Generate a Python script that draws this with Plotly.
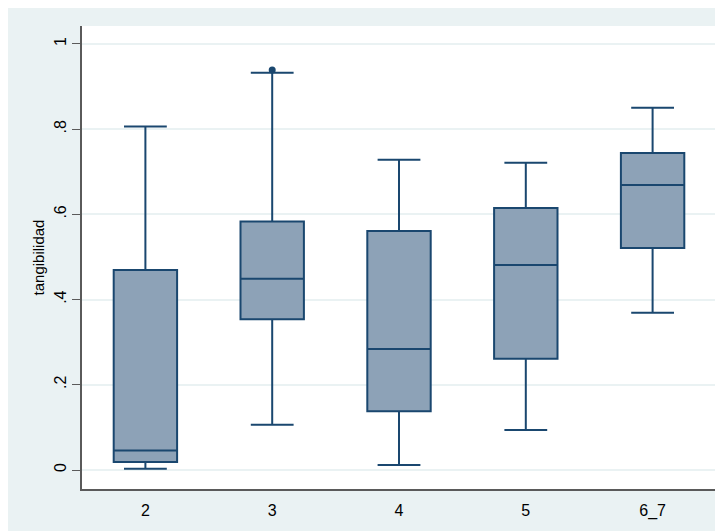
import plotly.graph_objects as go

categories = ["2", "3", "4", "5", "6_7"]
lower_whisker = [0.003, 0.106, 0.012, 0.094, 0.369]
q1_values = [0.019, 0.354, 0.138, 0.261, 0.521]
median_values = [0.046, 0.449, 0.284, 0.481, 0.669]
q3_values = [0.4695, 0.583, 0.561, 0.615, 0.744]
upper_whisker = [0.806, 0.932, 0.728, 0.721, 0.850]
outlier_categories = ["3"]
outlier_values = [0.939]
y_tick_values = [0, 0.2, 0.4, 0.6, 0.8, 1]
y_tick_labels = ["0", ".2", ".4", ".6", ".8", "1"]

navy = "#1A476F"
fill = "#8DA2B7"
bg = "#EAF2F3"

fig = go.Figure()
fig.add_trace(go.Box(
    x=categories,
    q1=q1_values,
    median=median_values,
    q3=q3_values,
    lowerfence=lower_whisker,
    upperfence=upper_whisker,
    fillcolor=fill,
    line=dict(color=navy, width=2),
    width=0.5,
    whiskerwidth=0.675,
    boxpoints=False,
    showlegend=False,
    hoverinfo="skip",
))
fig.add_trace(go.Scatter(
    x=outlier_categories,
    y=outlier_values,
    mode="markers",
    marker=dict(color=navy, size=7),
    showlegend=False,
    hoverinfo="skip",
))

# page body has an 8px margin; figure occupies 8..723 x 8..531
fig.update_layout(
    width=715, height=523,
    margin=dict(l=74, r=7, t=18, b=42, pad=0),
    paper_bgcolor=bg,
    plot_bgcolor="white",
    font=dict(family="Arial, Liberation Sans, sans-serif", size=15, color="black"),
)
fig.update_xaxes(
    type="category",
    range=[-0.5, 4.5],
    showgrid=False,
    showline=True, linecolor="#5a5a5a", linewidth=1.5,
    ticks="", tickfont=dict(size=16),
    ticklabelstandoff=6,
)
fig.update_yaxes(
    range=[-0.0446, 1.042],
    tickvals=y_tick_values,
    ticktext=y_tick_labels,
    tickangle=-90,
    tickfont=dict(size=16),
    ticks="outside", ticklen=8, tickcolor="#5a5a5a", tickwidth=1,
    showgrid=True, gridcolor=bg, gridwidth=1.5,
    zeroline=False,
    showline=True, linecolor="#5a5a5a", linewidth=1.5,
    title=dict(text="tangibilidad", font=dict(size=15), standoff=4),
)

fig.write_html("out.html")
